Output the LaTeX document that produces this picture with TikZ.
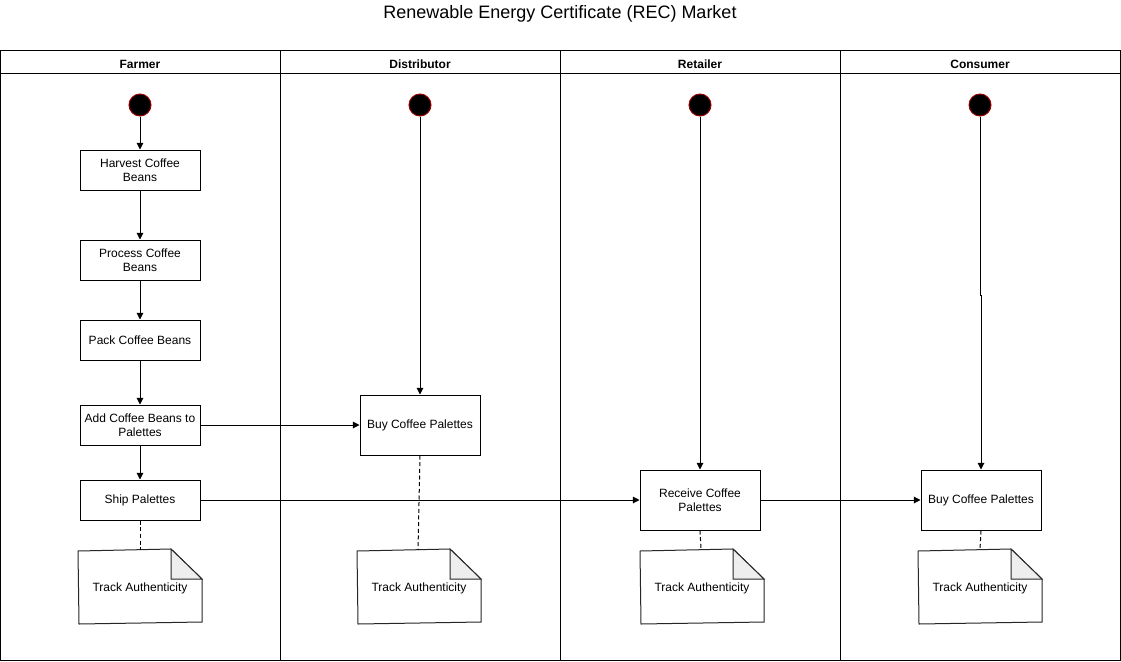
\documentclass[tikz,border=0pt]{standalone}
\usepackage{fontspec}
\setmainfont{Liberation Sans}
\usetikzlibrary{arrows.meta}
\definecolor{startred}{HTML}{990000}
\definecolor{foldgray}{HTML}{EEEEEE}
\begin{document}
\begin{tikzpicture}[x=0.75pt,y=-0.75pt,
  act/.style={draw,line width=0.75pt,fill=white,minimum width=90pt,align=center,font=\fontsize{9}{10.5}\selectfont,inner sep=1pt},
  start/.style={circle,fill=black,draw=startred,line width=0.75pt,minimum size=16.5pt,inner sep=0pt},
  hdr/.style={font=\bfseries\fontsize{9}{10.5}\selectfont},
  flow/.style={line width=0.75pt,-{Triangle[width=5pt,length=5pt]}},
  assoc/.style={line width=0.75pt,dashed,dash pattern=on 3pt off 2pt},
  notetxt/.style={font=\fontsize{9}{10.5}\selectfont,inner sep=0pt}
]
\useasboundingbox (0,0) rectangle (1121,661);
% title
\node[font=\fontsize{13.5}{16}\selectfont] (title) at (560,14) {Renewable Energy Certificate (REC) Market};
% pool
\draw[line width=0.75pt] (0.5,50.5) rectangle (1120.5,660.5);
\draw[line width=0.75pt] (0.5,73) -- (1120.5,73);
\foreach \x in {280,560,840} \draw[line width=0.75pt] (\x,50.5) -- (\x,660.5);
\node[hdr] (h1) at (140,64) {Farmer};
\node[hdr] (h2) at (420,64) {Distributor};
\node[hdr] (h3) at (700,64) {Retailer};
\node[hdr] (h4) at (980,64) {Consumer};
% start nodes
\node[start] (s1) at (140,105) {};
\node[start] (s2) at (420,105) {};
\node[start] (s3) at (700,105) {};
\node[start] (s4) at (980,105) {};
% farmer activities
\node[act,minimum height=30pt] (harvest) at (140,170) {Harvest Coffee\\Beans};
\node[act,minimum height=30pt] (process) at (140,260) {Process Coffee\\Beans};
\node[act,minimum height=30pt] (pack) at (140,340) {Pack Coffee Beans};
\node[act,minimum height=30pt] (add) at (140,425) {Add Coffee Beans to\\Palettes};
\node[act,minimum height=30pt] (ship) at (140,500) {Ship Palettes};
% others
\node[act,minimum height=45pt] (buyd) at (420,425) {Buy Coffee Palettes};
\node[act,minimum height=45pt] (recv) at (700,500) {Receive Coffee\\Palettes};
\node[act,minimum height=45pt] (buyc) at (981,500) {Buy Coffee Palettes};
% notes
\foreach \cx in {140,419,702,980}{
  \begin{scope}[shift={(\cx,0)}]
  \draw[line width=0.75pt,draw=black!85,fill=white] (-62,551) -- (31,549) -- (62,579) -- (62,622) -- (-61,624) -- cycle;
  \draw[line width=0.75pt,draw=black!85,fill=foldgray] (31,549) -- (31,579) -- (62,579) -- cycle;
  \end{scope}
}
\node[notetxt] (n1) at (140,588) {Track Authenticity};
\node[notetxt] (n2) at (419,588) {Track Authenticity};
\node[notetxt] (n3) at (702,588) {Track Authenticity};
\node[notetxt] (n4) at (980,588) {Track Authenticity};
% flows
\draw[flow] (s1) -- (harvest);
\draw[flow] (harvest) -- (process);
\draw[flow] (process) -- (pack);
\draw[flow] (pack) -- (add);
\draw[flow] (add) -- (ship);
\draw[flow] (add) -- (buyd);
\draw[flow] (ship) -- (recv);
\draw[flow] (recv) -- (buyc);
\draw[flow] (s2) -- (buyd);
\draw[flow] (s3) -- (recv);
\coordinate (j1) at (980,295);
\coordinate (j2) at (981,295);
\draw[flow] (s4) -- (j1) -- (j2) -- (buyc);
% associations
\coordinate (t1) at (140,550);
\coordinate (t2) at (418,550);
\coordinate (t3) at (701,549);
\coordinate (t4) at (980,549);
\draw[assoc] (ship.south) -- (t1);
\draw[assoc] (buyd.south) -- (t2);
\draw[assoc] (recv.south) -- (t3);
\draw[assoc] (buyc.south) -- (t4);
\end{tikzpicture}
\end{document}
